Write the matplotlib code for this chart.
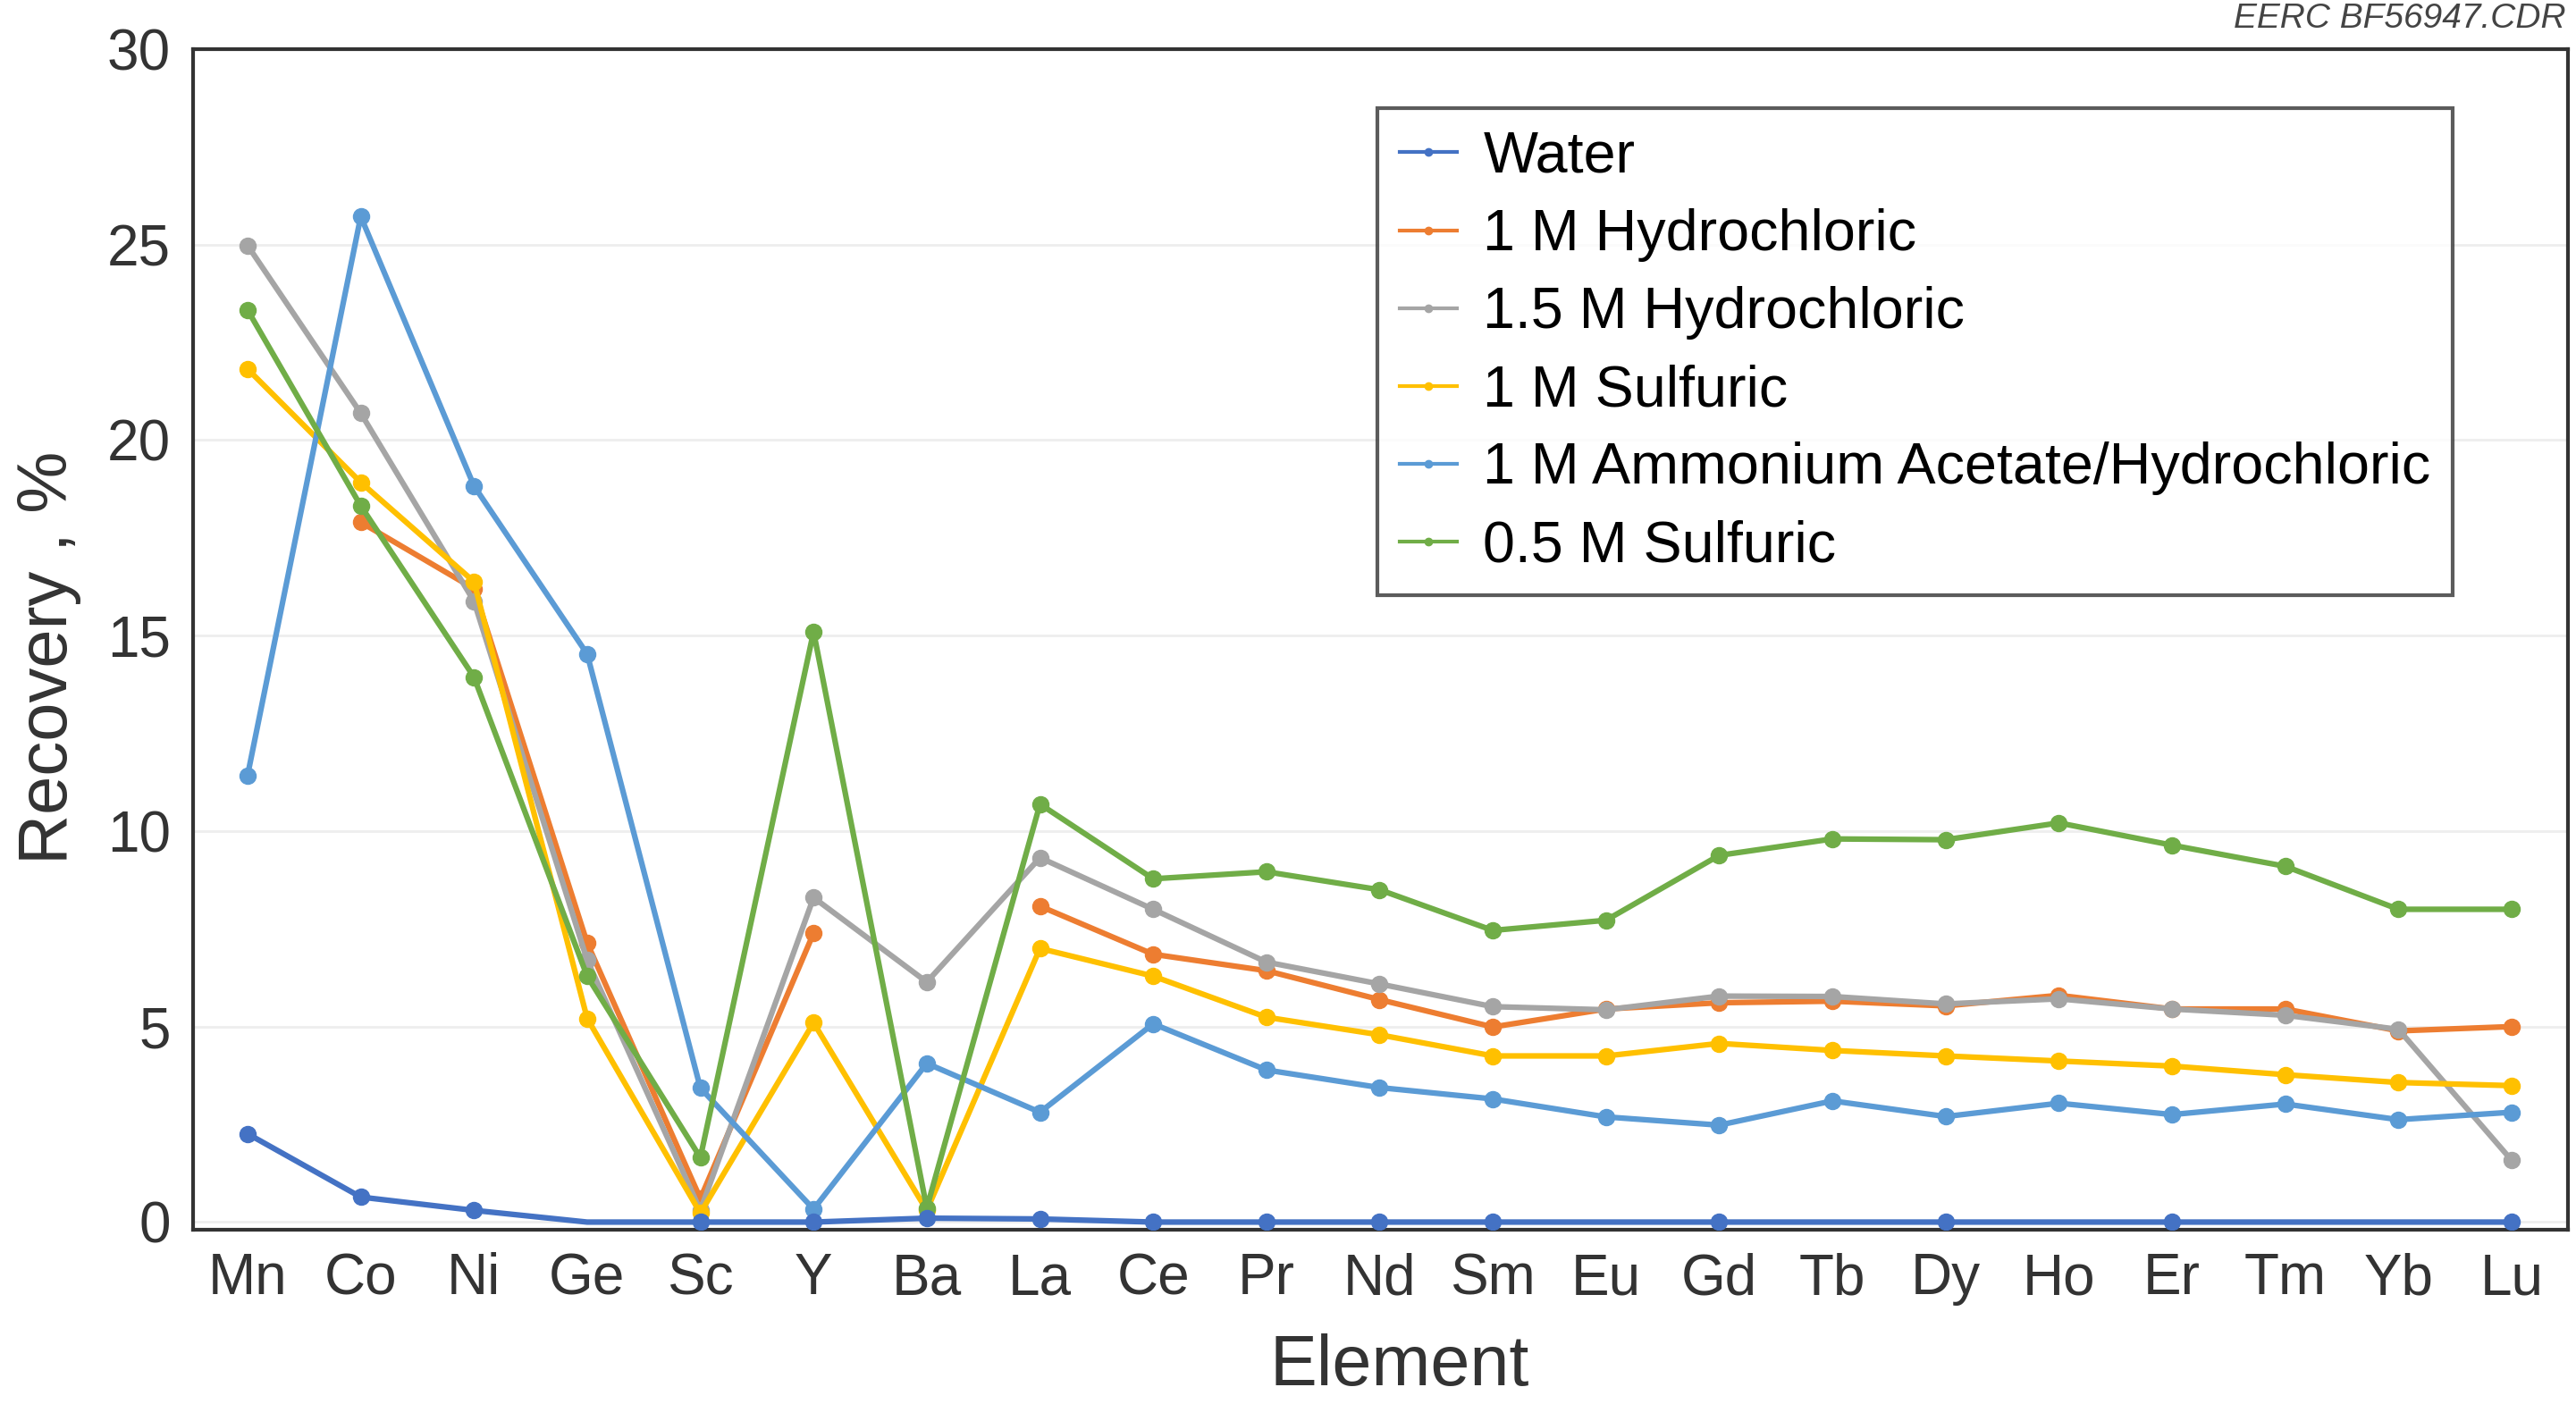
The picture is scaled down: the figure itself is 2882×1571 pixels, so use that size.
import numpy as np
import matplotlib
matplotlib.use('Agg')
import matplotlib.pyplot as plt

plt.rcParams['font.family'] = ['Liberation Sans', 'DejaVu Sans']

elements = ['Mn', 'Co', 'Ni', 'Ge', 'Sc', 'Y', 'Ba', 'La', 'Ce', 'Pr', 'Nd',
            'Sm', 'Eu', 'Gd', 'Tb', 'Dy', 'Ho', 'Er', 'Tm', 'Yb', 'Lu']
nan = np.nan

water = [2.26, 0.64, 0.30, 0.0, 0.0, 0.0, 0.10, 0.08, 0.0, 0.0, 0.0,
         0.0, 0.0, 0.0, 0.0, 0.0, 0.0, 0.0, 0.0, 0.0, 0.0]
hcl_1 = [nan, 17.9, 16.2, 7.14, 0.6, 7.39, nan, 8.08, 6.85, 6.43, 5.69,
         4.99, 5.45, 5.61, 5.65, 5.53, 5.8, 5.45, 5.45, 4.89, 5.0]
hcl_15 = [24.98, 20.69, 15.88, 6.7, 0.3, 8.3, 6.14, 9.32, 8.0, 6.65, 6.09,
          5.51, 5.43, 5.78, 5.77, 5.58, 5.71, 5.45, 5.29, 4.93, 1.58]
h2so4_1 = [21.82, 18.92, 16.38, 5.21, 0.23, 5.1, 0.3, 7.0, 6.29, 5.24, 4.79,
           4.25, 4.25, 4.57, 4.39, 4.25, 4.12, 3.99, 3.77, 3.57, 3.49]
aa_hcl = [11.42, 25.72, 18.83, 14.53, 3.43, 0.33, 4.06, 2.81, 5.07, 3.89, 3.44,
          3.15, 2.69, 2.48, 3.1, 2.7, 3.04, 2.75, 3.02, 2.62, 2.81]
h2so4_05 = [23.33, 18.32, 13.94, 6.29, 1.65, 15.1, 0.36, 10.69, 8.78, 8.96, 8.5,
            7.46, 7.72, 9.38, 9.8, 9.78, 10.21, 9.64, 9.1, 8.0, 8.0]

# water markers only drawn on some points in the original
water_marks = [0, 1, 2, 4, 5, 6, 7, 8, 9, 10, 11, 13, 15, 17, 20]

series = [
    ('Water', water, '#4472C4'),
    ('1 M Hydrochloric', hcl_1, '#ED7D31'),
    ('1.5 M Hydrochloric', hcl_15, '#A5A5A5'),
    ('1 M Sulfuric', h2so4_1, '#FFC000'),
    ('1 M Ammonium Acetate/Hydrochloric', aa_hcl, '#5B9BD5'),
    ('0.5 M Sulfuric', h2so4_05, '#70AD47'),
]

fig = plt.figure(figsize=(28.82, 15.71), dpi=100)
ax = fig.add_axes([0.075, 0.124, 0.922, 0.841])

x = np.arange(len(elements))
lines = []
for name, vals, col in series:
    mk = water_marks if name == 'Water' else None
    ln, = ax.plot(x, vals, '-o', color=col, lw=4.5, ms=13, markevery=mk,
                  label=name, zorder=3)
    lines.append(ln)
lines[0].set_zorder(4)

ax.set_xlim(-0.48, 20.5)
ax.set_ylim(-0.2, 30)
ax.set_yticks([0, 5, 10, 15, 20, 25, 30])
ax.set_xticks(x)
ax.set_xticklabels(elements)
ax.tick_params(length=0, labelsize=46, labelcolor='#333333', pad=18)
ax.yaxis.grid(True, color='#EEEEEE', lw=2)
ax.set_axisbelow(True)
for s in ax.spines.values():
    s.set_color('#333333')
    s.set_linewidth(3)

ax.set_xlabel('Element', fontsize=57, color='#333333')
ax.set_ylabel('Recovery , %', fontsize=56, color='#333333')
ax.xaxis.set_label_coords(0.508, -0.088)
ax.yaxis.set_label_coords(-0.047, 0.485)

leg = ax.legend(loc='upper left', bbox_to_anchor=(0.4986, 0.9497), fontsize=46.5,
                frameon=True, fancybox=False, handlelength=1.0,
                labelspacing=0.42, borderpad=0.38, handletextpad=0.45,
                borderaxespad=0)
leg.get_frame().set_edgecolor('#333333')
leg.get_frame().set_linewidth(3)
for h in leg.get_lines():
    h.set_linewidth(3)
    h.set_markersize(6)

fig.text(0.996, 0.975, 'EERC BF56947.CDR', ha='right', va='bottom',
         fontsize=28, style='italic', color='#444444')

fig.savefig('out.png', dpi=100, facecolor='white')
